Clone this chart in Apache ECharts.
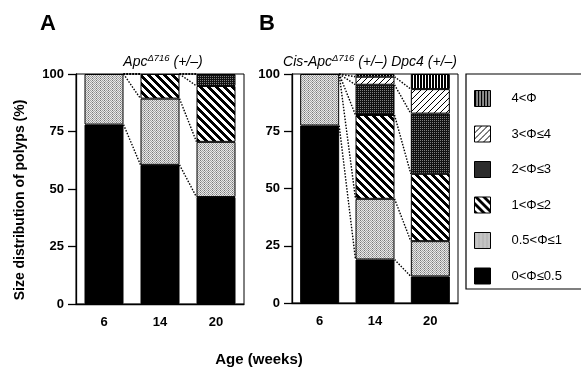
<!DOCTYPE html>
<html>
<head>
<meta charset="utf-8">
<script src="https://cdn.jsdelivr.net/npm/echarts@6/dist/echarts.min.js"></script>
<style>
  html, body { margin: 0; padding: 0; background: #fff; }
  #chart { width: 581px; height: 375px; }
</style>
</head>
<body>
<div id="chart"></div>
<script>
// ages (weeks) on the x axis of both panels
const ages = ["6", "14", "20"];
// size classes, from smallest (bottom of stack) to largest
const classes = ["0<Φ≤0.5", "0.5<Φ≤1", "1<Φ≤2", "2<Φ≤3", "3<Φ≤4", "4<Φ"];
const yTicks = [0, 25, 50, 75, 100];

// panel A: Apc Δ716 (+/-), % of polyps per size class
const aClass0 = [78, 60.5, 46.5];
const aClass1 = [22, 28.8, 24];
const aClass2 = [0, 10.7, 24.3];
const aClass3 = [0, 0, 5.2];
const aClass4 = [0, 0, 0];
const aClass5 = [0, 0, 0];

// panel B: cis-Apc Δ716 (+/-) Dpc4 (+/-)
const bClass0 = [77.5, 19, 11.6];
const bClass1 = [22.5, 26.5, 15.4];
const bClass2 = [0, 36.6, 29.4];
const bClass3 = [0, 13.2, 26.3];
const bClass4 = [0, 3.5, 10.7];
const bClass5 = [0, 1.2, 6.6];

const panelA = [aClass0, aClass1, aClass2, aClass3, aClass4, aClass5];
const panelB = [bClass0, bClass1, bClass2, bClass3, bClass4, bClass5];

const BAR_W = 39;
const FONT = "Liberation Sans, Arial, sans-serif";

// fill patterns, built pixel by pixel on small canvases
function pattern(n, pick) {
  const c = document.createElement("canvas");
  c.width = n; c.height = n;
  const g = c.getContext("2d");
  for (let x = 0; x < n; x++) {
    for (let y = 0; y < n; y++) {
      g.fillStyle = pick(x, y);
      g.fillRect(x, y, 1, 1);
    }
  }
  return { image: c, repeat: "repeat" };
}

const fills = [
  "#000",
  pattern(4, (x, y) => ((x + y) % 2 ? "#e8e8e8" : (x % 4 === 0 ? "#777" : "#a0a0a0"))),
  pattern(8, (x, y) => (((x - y) % 8 + 8) % 8 < 4 ? "#000" : "#fff")),
  pattern(4, (x, y) => (x % 2 === 0 && y % 2 === 0 ? "#808080" : "#111")),
  pattern(6, (x, y) => ((x + y) % 6 === 0 ? "#000" : "#fff")),
  pattern(3, (x, y) => (x < 2 ? "#000" : "#fff"))
];

function barSeries(panel, idx) {
  return panel.map((vals, k) => ({
    name: classes[k],
    type: "bar",
    stack: "p" + idx,
    xAxisIndex: idx,
    yAxisIndex: idx,
    barWidth: BAR_W,
    data: vals.map(v => (v === 0 ? "-" : v)),
    itemStyle: { color: fills[k], borderColor: "#000", borderWidth: 1 },
    emphasis: { disabled: true }
  }));
}

// dotted lines joining matching class boundaries of neighbouring bars
function connectors(panel, idx) {
  const cum = ages.map((_, i) => {
    let s = 0;
    return panel.map(vals => (s += vals[i]));
  });
  const data = [];
  for (let i = 0; i < ages.length - 1; i++) {
    for (let k = 0; k < classes.length - 1; k++) {
      data.push([i, Math.min(cum[i][k], 100), Math.min(cum[i + 1][k], 100)]);
    }
  }
  return {
    type: "custom",
    xAxisIndex: idx,
    yAxisIndex: idx,
    z: 5,
    clip: false,
    silent: true,
    encode: { x: 0, y: [1, 2] },
    data: data,
    renderItem: function (params, api) {
      const i = api.value(0);
      const p1 = api.coord([i, api.value(1)]);
      const p2 = api.coord([i + 1, api.value(2)]);
      return {
        type: "line",
        shape: { x1: p1[0] + BAR_W / 2, y1: p1[1], x2: p2[0] - BAR_W / 2, y2: p2[1] },
        style: { stroke: "#000", lineWidth: 1.4, lineDash: [1.5, 1.5] }
      };
    }
  };
}

function xAxis(idx) {
  return {
    type: "category",
    gridIndex: idx,
    data: ages,
    axisLine: { lineStyle: { color: "#000", width: 1.3 } },
    axisTick: { alignWithLabel: true, length: 5, lineStyle: { color: "#000", width: 1.3 } },
    axisLabel: { color: "#000", fontFamily: FONT, fontWeight: "bold", fontSize: 13, margin: 12 }
  };
}

function yAxis(idx) {
  return {
    type: "value",
    gridIndex: idx,
    min: yTicks[0],
    max: yTicks[yTicks.length - 1],
    interval: yTicks[1] - yTicks[0],
    splitLine: { show: false },
    axisLine: { show: true, lineStyle: { color: "#000", width: 1.3 } },
    axisTick: { show: true, length: 8, lineStyle: { color: "#000", width: 1.3 } },
    axisLabel: { color: "#000", fontFamily: FONT, fontWeight: "bold", fontSize: 13, margin: 12 }
  };
}

const chart = echarts.init(document.getElementById("chart"), null, { renderer: "canvas" });

const rich = {
  i: { fontFamily: FONT, fontStyle: "italic", fontSize: 14, fill: "#000" },
  s: { fontFamily: FONT, fontStyle: "italic", fontSize: 9.5, fill: "#000", padding: [0, 0, 7, 0] },
  n: { fontFamily: FONT, fontStyle: "italic", fontSize: 14, fill: "#000" }
};

chart.setOption({
  animation: false,
  backgroundColor: "#fff",
  grid: [
    { left: 76, top: 74, width: 168, height: 230, show: true, borderColor: "#000", borderWidth: 1 },
    { left: 292, top: 74, width: 166, height: 229, show: true, borderColor: "#000", borderWidth: 1 }
  ],
  xAxis: [xAxis(0), xAxis(1)],
  yAxis: [yAxis(0), yAxis(1)],
  legend: {
    orient: "vertical",
    left: 474,
    top: 90,
    padding: 0,
    itemWidth: 16,
    itemHeight: 16,
    itemGap: 18.5,
    icon: "rect",
    selectedMode: false,
    data: classes.slice().reverse(),
    itemStyle: { borderColor: "#000", borderWidth: 1 },
    textStyle: { color: "#000", fontFamily: FONT, fontSize: 13, padding: [0, 0, 0, 16] }
  },
  title: [
    { text: "A", left: 35, top: 8, textStyle: { fontFamily: FONT, fontWeight: "bold", fontSize: 22, color: "#000" } },
    { text: "B", left: 254, top: 8, textStyle: { fontFamily: FONT, fontWeight: "bold", fontSize: 22, color: "#000" } }
  ],
  graphic: [
    {
      type: "text", x: 163, y: 62,
      style: { text: "{i|Apc}{s|Δ716}{n| (+/–)}", rich: rich, align: "center", verticalAlign: "middle" }
    },
    {
      type: "text", x: 370, y: 62,
      style: { text: "{i|Cis-Apc}{s|Δ716}{n| (+/–)}{n| }{i|Dpc4}{n| (+/–)}", rich: rich, align: "center", verticalAlign: "middle" }
    },
    { type: "rect", shape: { x: 466, y: 74, width: 140, height: 215 }, style: { fill: "none", stroke: "#000", lineWidth: 1.2 }, z: 1 },
    {
      type: "text", x: 20, y: 200, rotation: Math.PI / 2,
      style: { text: "Size distribution of polyps (%)", font: "bold 14px " + FONT, fill: "#000", align: "center", verticalAlign: "middle" }
    },
    {
      type: "text", x: 259, y: 360,
      style: { text: "Age (weeks)", font: "bold 15px " + FONT, fill: "#000", align: "center", verticalAlign: "middle" }
    }
  ],
  series: barSeries(panelA, 0).concat(barSeries(panelB, 1), [connectors(panelA, 0), connectors(panelB, 1)])
});
</script>
</body>
</html>
